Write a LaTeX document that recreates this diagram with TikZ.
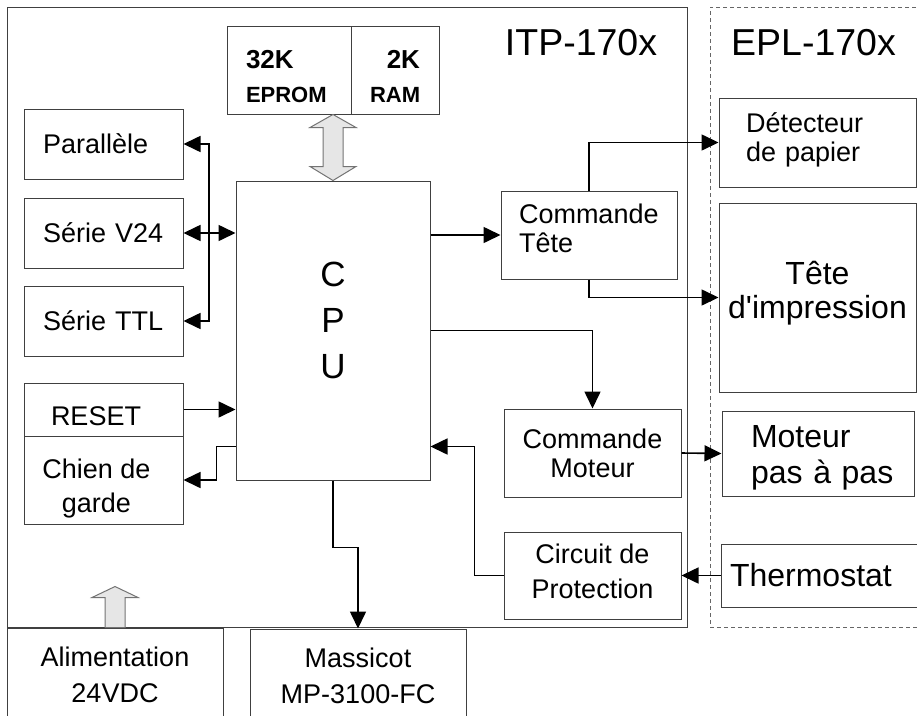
\documentclass[tikz,border=0pt]{standalone}
\usepackage{fontspec}
\setmainfont{Liberation Sans}
\usetikzlibrary{arrows.meta, calc}
\definecolor{mygray}{RGB}{64,64,64}
\definecolor{mylight}{RGB}{230,230,230}

\begin{document}
\begin{tikzpicture}[x=1pt, y=-1pt,
  box/.style={draw=mygray, line width=1pt, inner sep=0pt, font=\fontsize{27}{29}\selectfont},
  lbox/.style={box, align=left, inner xsep=#1},
  conn/.style={-{Triangle[length=17pt, width=16pt]}, line width=1.6pt},
  dconn/.style={{Triangle[length=17pt, width=16pt]}-{Triangle[length=17pt, width=16pt]}, line width=1.6pt},
  bigarrow/.style={draw=black!55, fill=mylight, line width=1pt}]

\useasboundingbox (0,0) rectangle (917,715);
\clip (0,0) rectangle (917,715);

\node[box, minimum width=680, minimum height=620] (itp) at (347,317) {};
\draw[black!60, line width=1pt, dash pattern=on 4pt off 3pt] (930,7) -- (710,7) -- (710,627) -- (930,627);
\node[font=\fontsize{37.5}{40}\selectfont, anchor=base] (itpname) at (581,55) {ITP-170x};
\node[font=\fontsize{37.5}{40}\selectfont, anchor=base] (eplname) at (813.5,55) {EPL-170x};

\node[lbox=19pt, text width=86pt, minimum height=88] (eprom) at (289,70) {\bfseries\fontsize{26}{26}\selectfont\rule{0pt}{31pt}32K\\[5pt]\fontsize{22}{26}\selectfont EPROM};
\node[box, align=right, inner xsep=19pt, text width=50pt, minimum height=88] (ram) at (395,70) {\bfseries\fontsize{26}{26}\selectfont\rule{0pt}{31pt}2K\\[5pt]\fontsize{22}{26}\selectfont RAM};

\node[lbox=19pt, text width=121pt, minimum height=70] (par) at (103.5,144) {Parallèle};
\node[lbox=19pt, text width=121pt, minimum height=70] (v24) at (103.5,233) {Série~V24};
\node[lbox=19pt, text width=121pt, minimum height=70] (ttl) at (103.5,321) {Série~TTL};

\node[box, minimum width=194, minimum height=299, label={[font=\fontsize{35}{46}\selectfont, align=center, yshift=10pt]center:C\\P\\U}] (cpu) at (333,330.5) {};

\node[lbox=27pt, text width=105pt, minimum height=53] (reset) at (103.5,409.5) {\rule{0pt}{33pt}RESET};
\node[box, minimum width=159, minimum height=88, label={[font=\fontsize{27}{34}\selectfont, align=center, xshift=-7pt, yshift=-9pt]center:Chien de\\garde}] (dog) at (103.5,480) {};

\node[lbox=18pt, text width=140pt, minimum height=88] (cmdtete) at (589,235) {Commande\\Tête\rule[-14pt]{0pt}{14pt}};
\node[box, minimum width=177, minimum height=88, align=center] (cmdmot) at (592.5,453) {Commande\\Moteur};
\node[box, minimum width=177, minimum height=87, align=center, font=\fontsize{27}{35}\selectfont] (circuit) at (592.5,575.5) {Circuit de\\Protection\rule[-8pt]{0pt}{8pt}};

\node[lbox=27pt, text width=143pt, minimum height=89] (detect) at (817.5,142.5) {Détecteur\\de~papier\rule[-10pt]{0pt}{10pt}};
\node[box, minimum width=197, minimum height=189, align=center, font=\fontsize{32}{34}\selectfont] (tete) at (817.5,297.5) {Tête\\d\textquotesingle impression\rule[-16pt]{0pt}{16pt}};
\node[lbox=29pt, text width=134pt, minimum height=85, font=\fontsize{32}{36}\selectfont] (moteur) at (818,453.5) {\rule{0pt}{30pt}Moteur\\pas~à~pas};
\node[lbox=9pt, text width=178pt, minimum height=63, font=\fontsize{32}{36}\selectfont] (thermo) at (819,575.5) {Thermostat};

\node[box, minimum width=216, minimum height=94, align=center, font=\fontsize{27}{36}\selectfont] (alim) at (115,675) {Alimentation\\24VDC};
\node[box, minimum width=216, minimum height=93, align=center, font=\fontsize{27}{36}\selectfont] (massicot) at (358,675.5) {Massicot\\MP-3100-FC};

\draw[bigarrow] (cpu.north) -- ++(-23,-14) -- ++(13,0) -- ++(0,-39) -- ++(-13,0) -- ++(23,-13) -- ++(23,13) -- ++(-13,0) -- ++(0,39) -- ++(13,0) -- cycle;
\draw[bigarrow] (alim.north) ++(-10,0) -- ++(0,-30) -- ++(-13,0) -- ++(23,-11) -- ++(23,11) -- ++(-13,0) -- ++(0,30) -- cycle;

\coordinate (bus) at (209,233);
\draw[dconn] (par.east) -- (par.east -| bus) -- (ttl.east -| bus) -- (ttl.east);
\draw[dconn] (v24.east) -- (cpu.west |- v24.east);
\draw[conn] (reset.east) -- (reset.east -| cpu.west);
\draw[conn] ($(cpu.south west)+(0,-34)$) -- ++(-19,0) |- (dog.east);
\draw[conn] (cpu.south) -- ++(0,67) -| (massicot.north);

\draw[conn] (cpu.east |- cmdtete.west) -- (cmdtete.west);
\draw[conn] (cmdtete.north) |- (detect.west);
\draw[conn] (cmdtete.south) |- (tete.west);
\draw[conn] (cpu.east) -| (cmdmot.north);
\draw[conn] (cmdmot.east) -- (moteur.west);
\draw[conn] (circuit.west) -- ++(-29,0) |- ($(cpu.south east)+(0,-34)$);
\draw[conn] (thermo.west) -- (circuit.east);
\end{tikzpicture}
\end{document}
